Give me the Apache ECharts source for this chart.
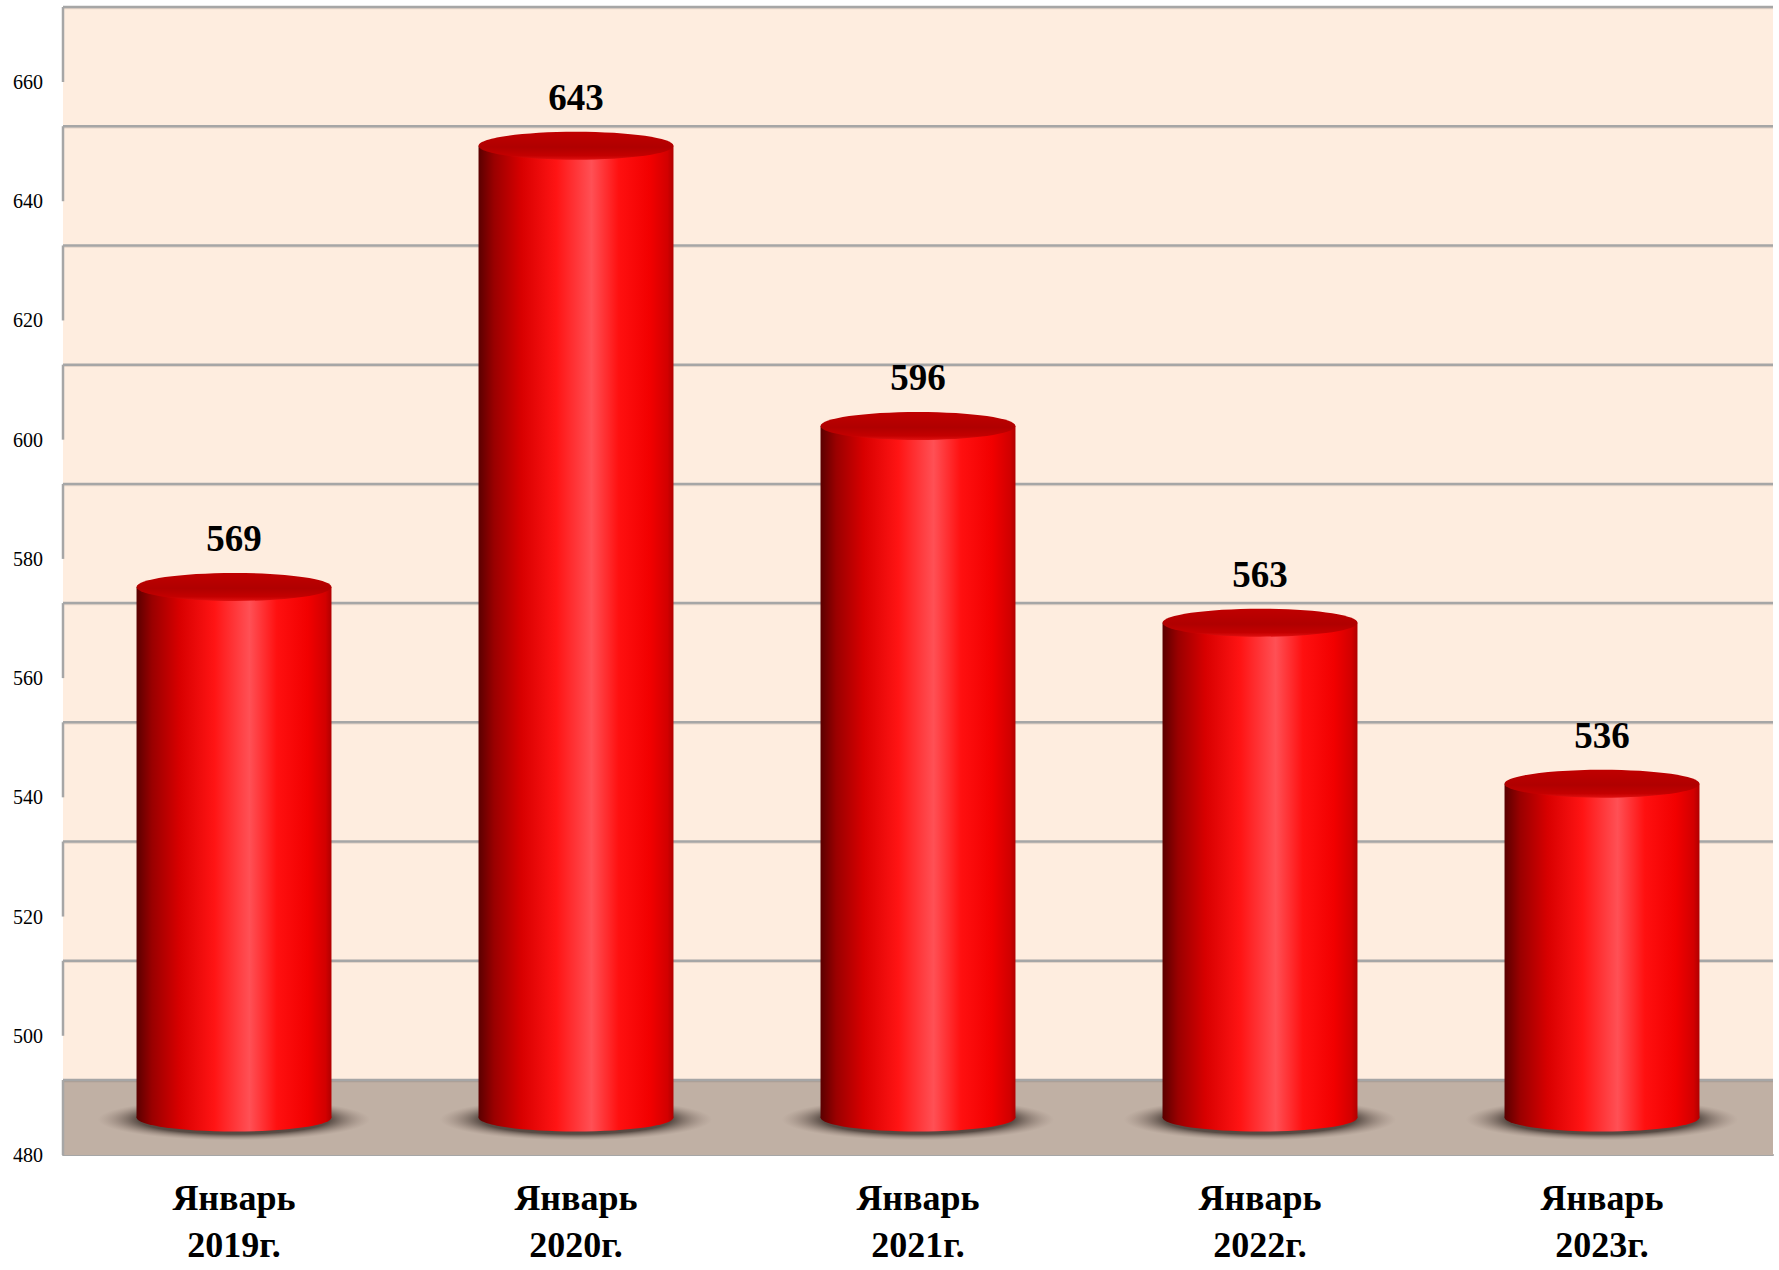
<!DOCTYPE html>
<html>
<head>
<meta charset="utf-8">
<script src="https://cdn.jsdelivr.net/npm/echarts@6/dist/echarts.min.js"></script>
<style>
html,body{margin:0;padding:0;background:#fff;overflow:hidden;}
#chart{width:1779px;height:1270px;}
</style>
</head>
<body>
<div id="chart"></div>
<script>
// ---- data ----
const categories = ['Январь\n2019г.', 'Январь\n2020г.', 'Январь\n2021г.', 'Январь\n2022г.', 'Январь\n2023г.'];
const values = [569, 643, 596, 563, 536];
const yMin = 480, yMax = 660, yStep = 20;
const tickValues = [480, 500, 520, 540, 560, 580, 600, 620, 640, 660];

// ---- layout / style ----
const FONT = '"Liberation Serif", "Times New Roman", serif';
const DEPTH = 75;                 // vertical offset of back wall (px)
const FRONT_TOP = 82, FRONT_BOTTOM = 115;
const LEFT = 63, RIGHT = 6;
const GRID_COLOR = '#a6a6a6';

const chart = echarts.init(document.getElementById('chart'), null, {renderer: 'svg'});
const PX_PER_UNIT = (chart.getHeight() - FRONT_TOP - FRONT_BOTTOM) / (yMax - yMin);
const DEPTH_VAL = DEPTH / PX_PER_UNIT;

function cylinder(params, api) {
  const i = api.value(0), v = api.value(1);
  const pTop = api.coord([i, v]);
  const pBase = api.coord([i, yMin]);
  const cx = pTop[0];
  const topY = pTop[1] - DEPTH / 2;
  const baseY = pBase[1] - DEPTH / 2;
  const w = api.size([1, 0])[0] * 0.57;
  const rx = w / 2, ry = 14;
  const side = new echarts.graphic.LinearGradient(0, 0, 1, 0, [
    {offset: 0, color: '#5a0000'},
    {offset: 0.08, color: '#9a0000'},
    {offset: 0.22, color: '#d80000'},
    {offset: 0.4, color: '#ff1414'},
    {offset: 0.58, color: '#ff5055'},
    {offset: 0.72, color: '#ff1010'},
    {offset: 0.88, color: '#f20000'},
    {offset: 0.97, color: '#d20000'},
    {offset: 1, color: '#b00000'}
  ]);
  const topFill = new echarts.graphic.LinearGradient(0, 0, 0, 1, [
    {offset: 0, color: '#c00000'},
    {offset: 0.55, color: '#b00000'},
    {offset: 0.85, color: '#c40000'},
    {offset: 1, color: '#e01010'}
  ]);
  const shadow = new echarts.graphic.RadialGradient(0.5, 0.5, 0.5, [
    {offset: 0, color: 'rgba(50,38,32,1)'},
    {offset: 0.7, color: 'rgba(70,58,52,0.85)'},
    {offset: 1, color: 'rgba(150,130,120,0)'}
  ]);
  return {
    type: 'group',
    children: [
      {type: 'ellipse', shape: {cx: cx, cy: baseY + 2, rx: rx * 1.4, ry: ry * 1.5}, style: {fill: shadow}},
      {type: 'rect', shape: {x: cx - rx, y: topY, width: w, height: baseY - topY}, style: {fill: side}},
      {type: 'ellipse', shape: {cx: cx, cy: baseY, rx: rx, ry: ry}, style: {fill: side}},
      {type: 'ellipse', shape: {cx: cx, cy: topY, rx: rx, ry: ry}, style: {fill: topFill}},
      {type: 'text', style: {
        text: String(v), x: cx, y: topY - ry - 16,
        textAlign: 'center', textVerticalAlign: 'bottom',
        font: 'bold 37px ' + FONT, fill: '#000'
      }}
    ]
  };
}

// left side wall segments (front tick -> back tick)
function sideWall(params, api) {
  const v = api.value(0);
  const p = api.coord([0, v]);
  return {
    type: 'line',
    shape: {x1: LEFT, y1: p[1], x2: LEFT, y2: p[1] - DEPTH},
    style: {stroke: GRID_COLOR, lineWidth: 2.5}
  };
}

// back wall gridlines
function backLine(params, api) {
  const v = api.value(0);
  const p = api.coord([0, v]);
  const cs = params.coordSys;
  const y = p[1] - DEPTH;
  return {
    type: 'group',
    children: [
      {type: 'line', shape: {x1: cs.x, y1: y + 1.5, x2: cs.x + cs.width, y2: y + 1.5},
       style: {stroke: 'rgba(0,0,0,0.10)', lineWidth: 1.5}},
      {type: 'line', shape: {x1: cs.x, y1: y, x2: cs.x + cs.width, y2: y},
       style: {stroke: GRID_COLOR, lineWidth: 2.5}}
    ]
  };
}

const option = {
  backgroundColor: '#ffffff',
  animation: false,
  grid: [
    {left: LEFT, right: RIGHT, top: FRONT_TOP, bottom: FRONT_BOTTOM, containLabel: false, outerBoundsMode: 'none'},
    {left: LEFT, right: RIGHT, top: FRONT_TOP - DEPTH, bottom: FRONT_BOTTOM + DEPTH, containLabel: false, outerBoundsMode: 'none',
     show: true, backgroundColor: '#feeddf', borderWidth: 0, z: -1}
  ],
  xAxis: [
    {type: 'category', gridIndex: 0, data: categories,
     axisLine: {show: true, lineStyle: {color: GRID_COLOR, width: 2}},
     axisTick: {show: false},
     axisLabel: {color: '#000', fontFamily: FONT, fontWeight: 'bold', fontSize: 36, lineHeight: 47, margin: 19, interval: 0}},
    {type: 'category', gridIndex: 1, data: categories, show: false}
  ],
  yAxis: [
    {type: 'value', gridIndex: 0, min: yMin, max: yMax, interval: yStep,
     axisLine: {show: false}, axisTick: {show: false}, splitLine: {show: false},
     axisLabel: {color: '#000', fontFamily: FONT, fontSize: 20, margin: 20}},
    {type: 'value', gridIndex: 1, min: yMin, max: yMax, interval: yStep, show: false}
  ],
  series: [
    {
      type: 'custom', xAxisIndex: 0, yAxisIndex: 0,
      renderItem: backLine,
      data: tickValues.map(v => [v]),
      encode: {y: 0},
      silent: true, z: 1
    },
    {
      type: 'custom', xAxisIndex: 0, yAxisIndex: 0,
      renderItem: sideWall,
      data: tickValues.map(v => [v]),
      encode: {y: 0},
      silent: true, z: 3,
      markArea: {
        silent: true,
        itemStyle: {color: '#c0b0a4'},
        data: [[{yAxis: yMin}, {yAxis: yMin + DEPTH_VAL}]]
      }
    },
    {
      type: 'custom', xAxisIndex: 0, yAxisIndex: 0,
      renderItem: cylinder,
      data: values.map((v, i) => [i, v]),
      encode: {x: 0, y: 1},
      z: 5
    }
  ]
};
chart.setOption(option);
</script>
</body>
</html>
